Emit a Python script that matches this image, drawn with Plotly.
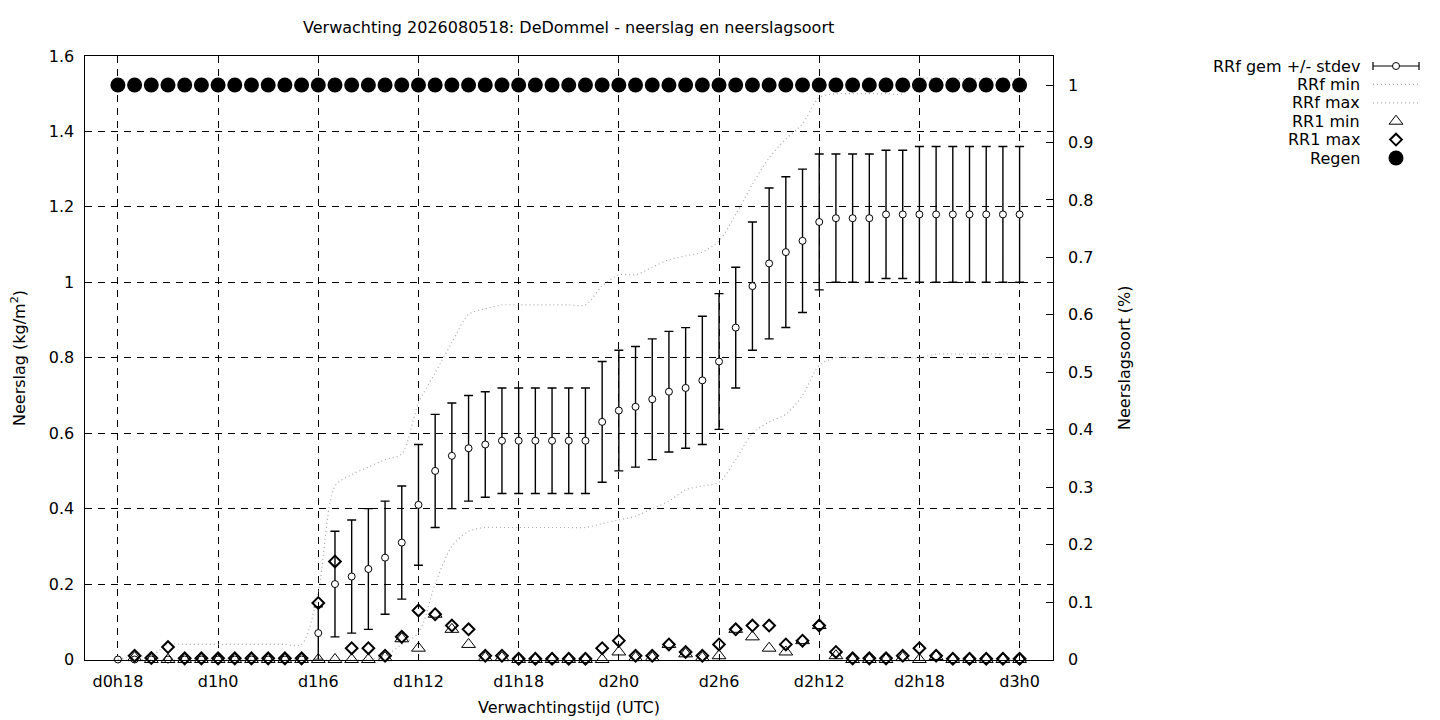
import plotly.graph_objects as go

# The page body adds an 8px offset; the figure fills the rest of the window.
OFF = 8
W, H = 1440 - OFF, 720 - OFF

# ---------------- data ----------------
hours = list(range(18, 73))  # forecast hours d0h18 .. d3h0

rrf_mean = [0.0] + [0.0]*11 + [
    0.07, 0.20, 0.22, 0.24, 0.27, 0.31, 0.41, 0.50, 0.54, 0.56, 0.57, 0.58,
    0.58, 0.58, 0.58, 0.58, 0.58,
    0.63, 0.66, 0.67, 0.69, 0.71, 0.72, 0.74, 0.79, 0.88, 0.99, 1.05, 1.08,
    1.11, 1.16, 1.17, 1.17, 1.17, 1.18,
    1.18, 1.18, 1.18, 1.18, 1.18, 1.18, 1.18, 1.18]

rrf_std = [0.0]*12 + [
    0.07, 0.14, 0.15, 0.16, 0.15, 0.15, 0.16, 0.15, 0.14, 0.14, 0.14, 0.14,
    0.14, 0.14, 0.14, 0.14, 0.14,
    0.16, 0.16, 0.16, 0.16, 0.16, 0.16, 0.17, 0.18, 0.16, 0.17, 0.20, 0.20,
    0.19, 0.18, 0.17, 0.17, 0.17, 0.17, 0.17,
    0.18, 0.18, 0.18, 0.18, 0.18, 0.18, 0.18]

rrf_min = [0.0]*16 + [
    0.01, 0.04, 0.07, 0.20, 0.30, 0.34, 0.35,
    0.35, 0.35, 0.35, 0.35, 0.35, 0.35,
    0.36, 0.37, 0.38, 0.40, 0.42, 0.45, 0.46, 0.47, 0.53, 0.60, 0.63, 0.65,
    0.70, 0.78,
    0.80, 0.80, 0.80, 0.80, 0.80,
    0.80,
    0.81, 0.81, 0.81, 0.81, 0.81, 0.81]

rrf_max = [0.0, 0.01, 0.01, 0.04] + [0.04]*8 + [
    0.18, 0.46, 0.49, 0.51, 0.53, 0.545, 0.68, 0.76, 0.84, 0.915, 0.93, 0.94,
    0.94, 0.94, 0.94, 0.94, 0.94,
    0.99, 1.02, 1.02, 1.04, 1.06, 1.07, 1.08, 1.11, 1.18, 1.26, 1.33, 1.38,
    1.42, 1.49,
    1.50, 1.50, 1.50, 1.50, 1.50,
    1.54, 1.54, 1.54, 1.54, 1.54, 1.54, 1.54]

rr1_max = [None, 0.01, 0.004, 0.033] + [0.003]*8 + [
    0.15, 0.26, 0.03, 0.03, 0.01, 0.06, 0.13, 0.12, 0.09, 0.08, 0.01, 0.01,
    0.002, 0.002, 0.002, 0.002, 0.002,
    0.03, 0.05, 0.01, 0.01, 0.04, 0.02, 0.01, 0.04, 0.08, 0.09, 0.09, 0.04,
    0.05, 0.09, 0.02, 0.003, 0.003, 0.003, 0.01, 0.03, 0.01,
    0.002, 0.002, 0.002, 0.002, 0.002]

rr1_min = [None, 0.005, 0.0, 0.0] + [0.0]*8 + [
    0.0, 0.0, 0.0, 0.0, 0.005, 0.055, 0.03, 0.12, 0.08, 0.04, 0.005, 0.005,
    0.0, 0.0, 0.0, 0.0, 0.0,
    0.0, 0.02, 0.005, 0.005, 0.04, 0.015, 0.005, 0.01, 0.08, 0.06, 0.03, 0.02,
    0.05, 0.09, 0.01, 0.0, 0.0, 0.0, 0.005, 0.0, 0.008,
    0.0, 0.0, 0.0, 0.0, 0.0]

regen = [1.0]*55  # neerslagsoort: regen (fraction)

tick_hours = [18, 24, 30, 36, 42, 48, 54, 60, 66, 72]
tick_text = ['d0h18', 'd1h0', 'd1h6', 'd1h12', 'd1h18', 'd2h0', 'd2h6',
             'd2h12', 'd2h18', 'd3h0']

legend_labels = ['RRf gem +/- stdev', 'RRf min', 'RRf max', 'RR1 min',
                 'RR1 max', 'Regen']

# ---------------- layout geometry (screen pixels -> figure pixels) ----------------
def fx(px):
    return px - OFF

def fy(py):
    return py - OFF

PL, PR, PT, PB = fx(84.5), fx(1053.0), fy(56.0), fy(659.5)
FONT = 'DejaVu Sans'
FS = 16
GRAY = '#a8a8a8'
TRI = dict(symbol='triangle-up-open', size=12, color='black',
           line=dict(color='black', width=1))
DIA = dict(symbol='diamond-open', size=9, color='black',
           line=dict(color='black', width=2))
OPEN_C = dict(symbol='circle', size=7, color='white',
              line=dict(color='black', width=1))
FILL_C = dict(symbol='circle', size=15, color='black', line=dict(width=0))

fig = go.Figure()

fig.add_trace(go.Scatter(
    x=hours, y=rrf_mean, mode='markers', name=legend_labels[0],
    marker=OPEN_C,
    error_y=dict(type='data', array=rrf_std, symmetric=True,
                 color='black', thickness=1.4, width=4.5),
    cliponaxis=False, xaxis='x', yaxis='y'))

fig.add_trace(go.Scatter(
    x=hours, y=rrf_min, mode='lines', name=legend_labels[1],
    line=dict(color=GRAY, width=1.2, dash='1px,3px', shape='spline',
              smoothing=0.8), xaxis='x', yaxis='y'))

fig.add_trace(go.Scatter(
    x=hours, y=rrf_max, mode='lines', name=legend_labels[2],
    line=dict(color=GRAY, width=1.2, dash='1px,3px', shape='spline',
              smoothing=0.8), xaxis='x', yaxis='y'))

fig.add_trace(go.Scatter(
    x=hours, y=rr1_min, mode='markers', name=legend_labels[3],
    marker=TRI, cliponaxis=False, xaxis='x', yaxis='y'))

fig.add_trace(go.Scatter(
    x=hours, y=rr1_max, mode='markers', name=legend_labels[4],
    marker=DIA, cliponaxis=False, xaxis='x', yaxis='y'))

fig.add_trace(go.Scatter(
    x=hours, y=regen, mode='markers', name=legend_labels[5],
    marker=FILL_C, cliponaxis=False, xaxis='x', yaxis='y2'))

# ---------------- custom legend (pixel-space helper axes) ----------------
row_y = [fy(66 + 18.4 * i) for i in range(6)]
sx0, sx1, sxm = fx(1373), fx(1419), fx(1396)
fig.add_trace(go.Scatter(
    x=[sx0, sx1, None, sx0, sx0, None, sx1, sx1],
    y=[row_y[0], row_y[0], None, row_y[0] - 4, row_y[0] + 4, None,
       row_y[0] - 4, row_y[0] + 4],
    mode='lines', line=dict(color='black', width=1.2),
    xaxis='x3', yaxis='y3', hoverinfo='skip'))
fig.add_trace(go.Scatter(
    x=[sxm], y=[row_y[0]], mode='markers', marker=OPEN_C,
    xaxis='x3', yaxis='y3', hoverinfo='skip'))
for r in (1, 2):
    fig.add_trace(go.Scatter(
        x=[sx0, sx1], y=[row_y[r], row_y[r]], mode='lines',
        line=dict(color=GRAY, width=1.2, dash='1px,3px'),
        xaxis='x3', yaxis='y3', hoverinfo='skip'))
fig.add_trace(go.Scatter(
    x=[sxm], y=[row_y[3]], mode='markers', marker=TRI,
    xaxis='x3', yaxis='y3', hoverinfo='skip'))
fig.add_trace(go.Scatter(
    x=[sxm], y=[row_y[4]], mode='markers', marker=DIA,
    xaxis='x3', yaxis='y3', hoverinfo='skip'))
fig.add_trace(go.Scatter(
    x=[sxm], y=[row_y[5]], mode='markers', marker=FILL_C,
    xaxis='x3', yaxis='y3', hoverinfo='skip'))

annotations = []
for lab, ry in zip(legend_labels, row_y):
    annotations.append(dict(
        text=lab, x=fx(1362) / W, y=1 - ry / H, xref='paper', yref='paper',
        xanchor='right', yanchor='middle', showarrow=False,
        font=dict(family=FONT, size=FS, color='black')))

annotations.append(dict(
    text='Verwachtingstijd (UTC)', x=(PL + PR) / 2 / W, y=1 - fy(707) / H,
    xref='paper', yref='paper', xanchor='center', yanchor='middle',
    showarrow=False, font=dict(family=FONT, size=FS, color='black')))
annotations.append(dict(
    text='Neerslag (kg/m<sup>2</sup>)', x=fx(18) / W, y=1 - fy(358) / H,
    xref='paper', yref='paper', xanchor='center', yanchor='middle',
    textangle=-90, showarrow=False,
    font=dict(family=FONT, size=FS, color='black')))
annotations.append(dict(
    text='Neerslagsoort (%)', x=fx(1124) / W, y=1 - fy(358) / H,
    xref='paper', yref='paper', xanchor='center', yanchor='middle',
    textangle=-90, showarrow=False,
    font=dict(family=FONT, size=FS, color='black')))
annotations.append(dict(
    text='Verwachting 2026080518: DeDommel - neerslag en neerslagsoort',
    x=(PL + PR) / 2 / W, y=1 - fy(28) / H,
    xref='paper', yref='paper', xanchor='center', yanchor='middle',
    showarrow=False, font=dict(family=FONT, size=FS, color='black')))

grid_kw = dict(showgrid=True, gridcolor='black', gridwidth=1,
               griddash='7px,6px')

fig.update_layout(
    template='none',
    width=W, height=H,
    margin=dict(l=0, r=0, t=0, b=0, pad=0, autoexpand=False),
    paper_bgcolor='white', plot_bgcolor='rgba(0,0,0,0)',
    showlegend=False,
    font=dict(family=FONT, size=FS, color='black'),
    xaxis=dict(domain=[PL / W, PR / W], range=[16, 74], automargin=False,
               tickmode='array', tickvals=tick_hours, ticktext=tick_text,
               showline=True, linecolor='black', linewidth=1, mirror=True,
               zeroline=False, ticks='', ticklabelstandoff=7,
               tickfont=dict(family=FONT, size=FS, color='black'),
               anchor='y', **grid_kw),
    yaxis=dict(domain=[1 - PB / H, 1 - PT / H], range=[0, 1.6],
               automargin=False,
               tickmode='linear', tick0=0, dtick=0.2,
               showline=True, linecolor='black', linewidth=1, mirror=True,
               zeroline=False, ticks='', ticklabelstandoff=6,
               tickfont=dict(family=FONT, size=FS, color='black'),
               anchor='x', **grid_kw),
    yaxis2=dict(overlaying='y', side='right', anchor='x', automargin=False,
                range=[0, (PB - PT) / 574.5],
                tickmode='linear', tick0=0, dtick=0.1,
                showgrid=False, zeroline=False, showline=False,
                ticks='inside', ticklen=7, tickcolor='black', tickwidth=1,
                ticklabelstandoff=14,
                tickfont=dict(family=FONT, size=FS, color='black')),
    xaxis3=dict(domain=[0, 1], range=[0, W], visible=False, anchor='y3',
                fixedrange=True, automargin=False),
    yaxis3=dict(domain=[0, 1], range=[H, 0], visible=False, anchor='x3',
                fixedrange=True, automargin=False),
    annotations=annotations,
)

fig.write_html('out.html')
